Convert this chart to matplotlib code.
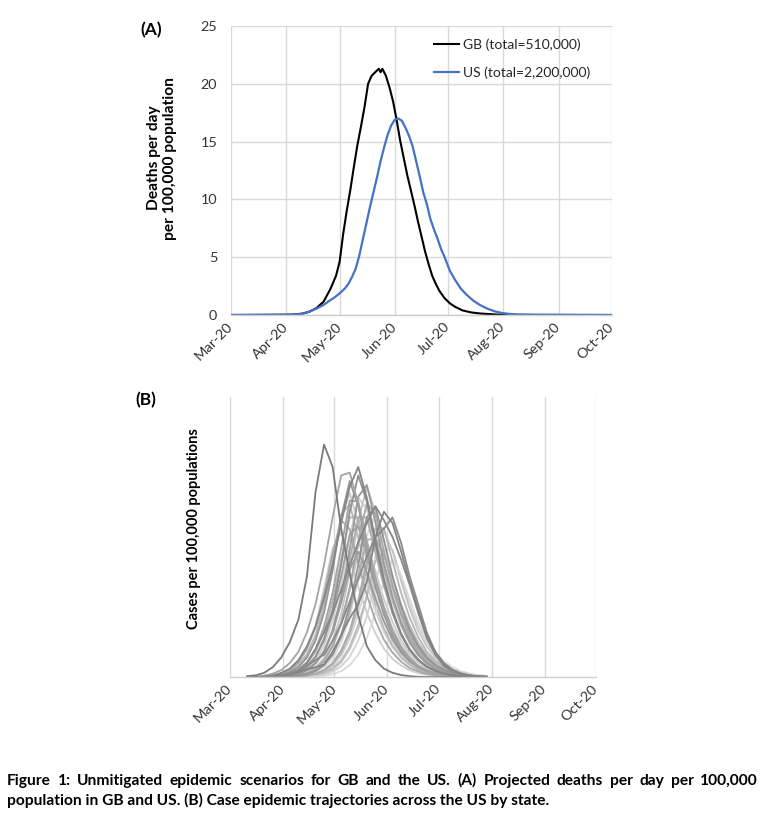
import numpy as np
import matplotlib
matplotlib.use('Agg')
import matplotlib.pyplot as plt
import matplotlib.transforms as mtransforms

plt.rcParams['font.family'] = ['Lato', 'DejaVu Sans']

# ---------------- data ----------------
START = np.datetime64('2020-03-01')
MONTH_TICKS = ['2020-03-01', '2020-04-01', '2020-05-01', '2020-06-01',
               '2020-07-01', '2020-08-01', '2020-09-01', '2020-10-01']
MONTH_LABELS = ['Mar-20', 'Apr-20', 'May-20', 'Jun-20', 'Jul-20', 'Aug-20', 'Sep-20', 'Oct-20']

# Panel A: deaths per day per 100,000 (days since 1 Mar 2020)
GB_DAYS = [0, 20, 30, 35, 40, 44, 48, 52, 56, 59, 61, 63, 65, 67, 69, 71, 73, 75, 77, 79,
           81, 83, 84, 85, 87, 89, 91, 93, 95, 97, 99, 101, 103, 105, 107, 109, 111, 113, 115, 117,
           120, 123, 126, 130, 135, 140, 150, 160, 214]
GB_VALUES = [0, 0.02, 0.03, 0.04, 0.12, 0.28, 0.6, 1.15, 2.3, 3.4, 4.6, 7.0, 9.0, 10.8, 12.8, 14.7, 16.3, 18.0, 20.0, 20.7,
             21.0, 21.3, 21.0, 21.3, 20.7, 19.7, 18.5, 16.9, 15.1, 13.6, 12.1, 10.8, 9.5, 8.1, 6.8, 5.5, 4.4, 3.4, 2.7, 2.1,
             1.45, 1.0, 0.7, 0.4, 0.22, 0.13, 0.03, 0.01, 0]
US_DAYS = [0, 30, 35, 40, 44, 48, 52, 55, 58, 61, 64, 66, 68, 70, 72, 74, 76, 78, 80, 82,
           84, 86, 88, 90, 92, 94, 96, 98, 100, 102, 104, 106, 108, 110, 112, 114, 116, 118, 120, 123,
           126, 129, 132, 136, 140, 144, 148, 152, 156, 160, 170, 214]
US_VALUES = [0, 0.01, 0.02, 0.1, 0.29, 0.55, 0.87, 1.2, 1.5, 1.87, 2.3, 2.7, 3.3, 4.0, 5.1, 6.5, 7.9, 9.3, 10.6, 11.9,
             13.3, 14.5, 15.6, 16.4, 16.9, 17.0, 16.8, 16.2, 15.5, 14.6, 13.3, 12.0, 10.6, 9.6, 8.3, 7.4, 6.6, 5.7, 5.0, 3.8,
             3.0, 2.3, 1.8, 1.25, 0.85, 0.55, 0.32, 0.18, 0.1, 0.05, 0.02, 0]
LEGEND_LABELS = ['GB (total=510,000)', 'US (total=2,200,000)']

# Panel B: case trajectories by state (relative scale, days since 1 Mar 2020)
STATE_DAYS = [10, 15, 20, 25, 30, 35, 40, 45, 50, 55, 60, 65, 70, 75, 80,
              85, 90, 95, 100, 105, 110, 115, 120, 125, 130, 135, 140, 145, 150]
STATE_01 = [0, 0, 0.1, 0.3, 0.7, 1.8, 3.5, 7, 13, 23, 38, 57, 70, 61, 46, 33, 22.4, 14.7, 9.5, 6, 3.5, 2.1, 1.2, 0.63, 0.28, 0.14, 0, 0, 0]
STATE_02 = [0, 0, 0.1, 0.2, 0.5, 1.2, 2.6, 5.3, 10, 18, 30, 46, 63, 62.7, 48.8, 35.6, 25, 16.8, 10.8, 6.9, 4.1, 2.4, 1.4, 0.8, 0.4, 0.17, 0, 0, 0]
STATE_03 = [0, 0, 0, 0.2, 0.4, 0.7, 1.8, 3.6, 7.2, 13.7, 24, 40, 59, 72, 62.6, 47.5, 33.8, 23, 15.1, 9.7, 6.1, 3.6, 2.2, 1.2, 0.65, 0.3, 0.15, 0, 0]
STATE_04 = [0, 0, 0.2, 0.45, 0.9, 2.2, 4.4, 8.2, 15, 26, 41, 58, 61.7, 49.8, 36.5, 25.8, 17.3, 11.3, 7.2, 4.4, 2.6, 1.5, 0.9, 0.44, 0.19, 0.1, 0, 0, 0]
STATE_05 = [0, 0, 0, 0.1, 0.25, 0.5, 1.1, 2.4, 4.8, 9, 16, 27, 42, 57, 57, 44.4, 32.4, 22.8, 15.3, 9.8, 6.3, 3.7, 2.2, 1.26, 0.72, 0.36, 0.15, 0, 0]
STATE_06 = [0, 0, 0, 0, 0.1, 0.3, 0.6, 1.4, 2.9, 5.7, 10.8, 19, 31, 47, 57, 49.6, 37.6, 26.8, 18.2, 12, 7.7, 4.8, 2.85, 1.7, 0.97, 0.5, 0.23, 0.1, 0]
STATE_07 = [0, 0, 0, 0.15, 0.4, 0.8, 1.9, 3.9, 7.2, 13, 22.5, 36, 51, 53.9, 43.5, 31.9, 22.6, 15.1, 9.9, 6.3, 3.9, 2.3, 1.3, 0.77, 0.39, 0.17, 0, 0, 0]
STATE_08 = [0, 0, 0, 0, 0.1, 0.2, 0.4, 0.9, 2.1, 4.2, 7.8, 14, 23.4, 36.4, 49, 49.4, 38.5, 28.1, 19.8, 13.3, 8.5, 5.5, 3.2, 1.9, 1.1, 0.62, 0.31, 0.13, 0]
STATE_09 = [0, 0, 0, 0, 0.1, 0.3, 0.7, 1.7, 3.4, 6.2, 11.5, 19.7, 31, 44, 47, 37.9, 27.8, 19.7, 13.2, 8.6, 5.5, 3.4, 2, 1.15, 0.67, 0.34, 0.14, 0, 0]
STATE_10 = [0, 0, 0, 0, 0, 0.1, 0.25, 0.5, 1.25, 2.5, 5, 9.5, 16.5, 27.5, 41, 50, 43.5, 33, 23.5, 16, 10.5, 6.75, 4.25, 2.5, 1.5, 0.85, 0.45, 0.2, 0.1]
STATE_11 = [0, 0, 0.1, 0.25, 0.5, 1.25, 2.5, 5, 9.5, 16.5, 27.5, 41, 50, 43.5, 33, 23.5, 16, 10.5, 6.75, 4.25, 2.5, 1.5, 0.85, 0.45, 0.2, 0.1, 0, 0, 0]
STATE_12 = [0, 0, 0, 0, 0, 0.15, 0.25, 0.35, 0.7, 1.6, 3.2, 5.9, 10.8, 18.5, 29, 41.4, 44.1, 35.6, 26.1, 18.5, 12.4, 8.1, 5.2, 3.2, 1.9, 1.1, 0.63, 0.32, 0.13]
STATE_13 = [0, 0, 0, 0.1, 0.25, 0.6, 1.4, 3, 5.9, 11.2, 20, 33, 50, 64, 60, 46.2, 33.3, 23.1, 15.2, 9.9, 6.3, 3.7, 2.2, 1.25, 0.7, 0.33, 0.13, 0, 0]
STATE_14 = [0, 0, 0, 0.1, 0.2, 0.5, 1.2, 2.5, 5, 9.2, 16, 26.5, 38.5, 44.8, 37.4, 27.9, 19.8, 13.5, 8.8, 5.6, 3.5, 2.1, 1.2, 0.7, 0.36, 0.16, 0, 0, 0]
STATE_15 = [0, 0, 0, 0, 0, 0, 0.1, 0.25, 0.5, 1.3, 2.6, 5.2, 9.9, 17, 28.6, 42.6, 52, 45.2, 34.3, 24.4, 16.6, 10.9, 7, 4.4, 2.6, 1.6, 0.9, 0.47, 0.2]
STATE_16 = [0, 0, 0.15, 0.5, 1.3, 2.6, 5.2, 10, 17.8, 29.5, 44, 56, 52.8, 40.6, 29.3, 20.3, 13.3, 8.7, 5.5, 3.2, 2, 1.1, 0.6, 0.29, 0.12, 0, 0, 0, 0]
STATE_17 = [0, 0, 0, 0, 0.1, 0.25, 0.5, 1, 2.2, 4.3, 8, 15, 25.4, 40, 57, 60.8, 49, 36, 25.4, 17, 11.2, 7.1, 4.3, 2.6, 1.5, 0.87, 0.43, 0.19, 0.1]
STATE_18 = [0, 0, 0, 0, 0.1, 0.2, 0.45, 1.1, 2.2, 4.4, 8.2, 14.2, 23.6, 34.5, 39.8, 33.2, 24.8, 17.6, 12, 7.8, 5, 3.1, 1.85, 1.1, 0.62, 0.32, 0.14, 0, 0]
STATE_19 = [0, 0, 0.1, 0.2, 0.45, 1.1, 2.4, 4.8, 9, 16.4, 27, 42, 57, 57, 44.4, 32.4, 22.8, 15.3, 9.8, 6.3, 3.7, 2.2, 1.26, 0.72, 0.36, 0.15, 0, 0, 0]
STATE_20 = [0, 0, 0, 0, 0, 0.15, 0.25, 0.4, 1, 2, 4, 7.5, 13.5, 22.5, 33.5, 42.5, 40, 30.8, 22.2, 15.4, 10.1, 6.6, 4.2, 2.5, 1.5, 0.84, 0.46, 0.22, 0.09]
STATE_21 = [0, 0, 0, 0.15, 0.3, 0.5, 1, 2.5, 4.9, 9.1, 16.8, 28.7, 45.5, 64.4, 68.6, 55.3, 40.6, 28.7, 19.3, 12.6, 8, 4.9, 2.9, 1.7, 0.98, 0.49, 0.21, 0, 0]
STATE_22 = [0, 0, 0, 0, 0, 0, 0.1, 0.2, 0.4, 0.9, 1.9, 3.8, 7.2, 13, 21.6, 33.6, 45.6, 45.6, 35.5, 25.9, 18.2, 12.2, 7.8, 5, 3, 1.8, 1, 0.58, 0.29]
STATE_23 = [0, 0, 0, 0, 0.15, 0.3, 0.6, 1.4, 2.9, 5.8, 10.9, 19.2, 32, 48.6, 62, 58.2, 44.8, 32.3, 22.4, 14.7, 9.6, 6.1, 3.6, 2.2, 1.2, 0.67, 0.32, 0.13, 0]
STATE_24 = [0, 0, 0.1, 0.3, 0.7, 1.8, 3.6, 7.3, 13.5, 24, 39.6, 57, 65.7, 54.8, 40.9, 29, 19.8, 12.9, 8.3, 5.1, 3, 1.8, 1, 0.53, 0.23, 0, 0, 0, 0]
STATE_25 = [0, 0, 0, 0, 0, 0, 0, 0.1, 0.2, 0.4, 1, 2.1, 4.2, 8, 13.9, 23, 34.4, 42, 36.5, 27.7, 19.7, 13.4, 8.8, 5.7, 3.6, 2.1, 1.26, 0.71, 0.38]
STATE_26 = [0.3, 0.6, 1.5, 3.5, 7, 12.5, 20.5, 36, 66, 83, 75, 53, 37, 22, 11, 6, 3, 1.5, 0.7, 0.3, 0.1, 0, 0, 0, 0, 0, 0, 0, 0]
STATE_27 = [0, 0, 0.1, 0.3, 0.6, 1, 1.8, 2.8, 3.5, 4.5, 9, 15, 21, 26, 34, 50, 59, 55, 45, 34, 24, 15, 9, 5, 2.6, 1.3, 0.6, 0.25, 0.1]
STATE_28 = [0, 0, 0, 0.2, 0.5, 1.2, 2.5, 5, 10, 16, 23, 31, 40, 48, 55, 61, 56, 50, 42, 33, 23, 14, 8, 4, 2, 1, 0.5, 0.2, 0]
STATE_29 = [0, 0, 0, 0.1, 0.3, 0.8, 1.8, 4, 6, 8, 13, 19, 27, 35, 43, 50, 53, 57, 48, 36, 26, 16, 9, 4.5, 2.2, 1, 0.4, 0.2, 0.1]
STATE_30 = [0, 0, 0, 0.5, 1.5, 3, 6, 11, 18, 28, 40, 55, 68, 75, 64, 49, 35, 24, 15.5, 10, 6.2, 3.8, 2.2, 1.2, 0.6, 0.3, 0.1, 0, 0]
STATE_31 = [0, 0, 0.5, 1.2, 2.5, 5, 9, 16, 26, 40, 57, 72, 73, 62, 47, 34, 23.5, 15.5, 10, 6.3, 3.8, 2.2, 1.2, 0.6, 0.3, 0.1, 0, 0, 0]
STATE_32 = [0, 0, 0, 0, 0.1, 0.3, 0.7, 1.7, 3.4, 6.8, 12.9, 22.4, 37.4, 55.8, 68, 59.2, 44.9, 32, 21.8, 14.3, 9.2, 5.8, 3.4, 2, 1.2, 0.6, 0.27, 0.1, 0]
STATE_33 = [0, 0, 0, 0, 0, 0.1, 0.2, 0.45, 1, 2.2, 4.5, 8.4, 15.1, 25.2, 39.2, 53.2, 53.2, 41.4, 30.2, 21.3, 14.3, 9.1, 5.9, 3.5, 2.1, 1.2, 0.67, 0.34, 0.14]
STATE_34 = [0, 0, 0.2, 0.6, 1.4, 2.9, 5.7, 10.6, 18.5, 31.5, 46, 51.7, 43.2, 32.2, 22.9, 15.6, 10.1, 6.5, 4.1, 2.4, 1.4, 0.8, 0.42, 0.18, 0, 0, 0, 0, 0]
STATE_35 = [0, 0, 0, 0, 0.1, 0.2, 0.35, 0.7, 1.7, 3.5, 6.4, 12.2, 21.5, 34.8, 50.5, 57.7, 48.1, 36, 25.5, 17.4, 11.3, 7.3, 4.5, 2.7, 1.6, 0.9, 0.46, 0.2, 0.1]

STATES = [STATE_11, STATE_24, STATE_35, STATE_18, STATE_22, STATE_34, STATE_13, STATE_15, STATE_09,
          STATE_20, STATE_32, STATE_04, STATE_06, STATE_12, STATE_25, STATE_33, STATE_02, STATE_19,
          STATE_05, STATE_16, STATE_07, STATE_08, STATE_10, STATE_23, STATE_14, STATE_01, STATE_21,
          STATE_03, STATE_17, STATE_31, STATE_30, STATE_28, STATE_29, STATE_27, STATE_26]
STATE_COLORS = ['#d4d4d4', '#c8c8c8', '#dcdcdc', '#d8d8d8', '#d2d2d2', '#cecece', '#d0d0d0', '#c6c6c6', '#cacaca',
                '#d6d6d6', '#c4c4c4', '#b8b8b8', '#c0c0c0', '#bcbcbc', '#dadada', '#b6b6b6', '#a2a2a2', '#b4b4b4',
                '#adadad', '#a6a6a6', '#9e9e9e', '#b0b0b0', '#aaaaaa', '#a8a8a8', '#9c9c9c', '#959595', '#999999',
                '#909090', '#939393', '#a4a4a4', '#858585', '#878787', '#8a8a8a', '#848484', '#7a7a7a']

for s in STATES:
    assert len(s) == len(STATE_DAYS)
assert len(STATES) == len(STATE_COLORS)
assert len(GB_DAYS) == len(GB_VALUES) and len(US_DAYS) == len(US_VALUES)

CAPTION_1 = 'Figure 1: Unmitigated epidemic scenarios for GB and the US. (A) Projected deaths per day per 100,000'
CAPTION_2 = 'population in GB and US. (B) Case epidemic trajectories across the US by state.'


def to_dates(days):
    return START + np.array(days, dtype='timedelta64[D]')


# ---------------- figure ----------------
W, H = 764, 813
fig = plt.figure(figsize=(W / 100, H / 100), dpi=100)


def fx(px):
    return px / W


def fy(py):
    return 1 - py / H


GRID = '#d9d9d9'
TICKC = '#333333'
TICK_FS = 10.4
months = np.array(MONTH_TICKS, dtype='datetime64[D]')
label_shift = mtransforms.ScaledTranslation(5 / 100, 0, fig.dpi_scale_trans)


def style_x(ax):
    ax.set_xlim(months[0], months[-1])
    ax.set_xticks(months)
    ax.set_xticklabels(MONTH_LABELS, fontsize=TICK_FS, color=TICKC)
    for lab in ax.get_xticklabels():
        lab.set_rotation(45)
        lab.set_ha('right')
        lab.set_va('center')
        lab.set_rotation_mode('anchor')
        lab.set_transform(lab.get_transform() + label_shift)
    ax.tick_params(axis='x', length=0, pad=7)
    ax.grid(axis='x', color=GRID, lw=1.0)
    for sp in ['top', 'right', 'left']:
        ax.spines[sp].set_visible(False)
    ax.spines['bottom'].set_color('#cfcfcf')
    ax.spines['bottom'].set_linewidth(1.0)
    ax.set_axisbelow(True)


# Panel A
axA = fig.add_axes([fx(231), fy(315), fx(612) - fx(231), fy(26) - fy(315)])
axA.plot(to_dates(GB_DAYS), GB_VALUES, color='black', lw=1.5, label=LEGEND_LABELS[0])
axA.plot(to_dates(US_DAYS), US_VALUES, color='#4472c4', lw=1.6, label=LEGEND_LABELS[1])
axA.set_ylim(0, 25)
axA.set_yticks([0, 5, 10, 15, 20, 25])
axA.set_yticklabels(['0', '5', '10', '15', '20', '25'], fontsize=TICK_FS, color=TICKC)
axA.tick_params(axis='y', length=0, pad=10)
axA.grid(axis='y', color=GRID, lw=1.0)
style_x(axA)
leg = axA.legend(loc='upper left', bbox_to_anchor=(fx(434), fy(38)), bbox_transform=fig.transFigure,
                 frameon=False, fontsize=10, borderpad=0, borderaxespad=0,
                 handlelength=1.8, handletextpad=0.3, labelspacing=1.15)
for t in leg.get_texts():
    t.set_color('#262626')

fig.text(fx(162), fy(158), 'Deaths per day\nper 100,000 population', rotation=90,
         ha='center', va='center', multialignment='center', fontsize=11.2, fontweight='bold',
         linespacing=1.15)
fig.text(fx(151), fy(30), '(A)', ha='center', va='center', fontsize=12.5, fontweight='bold')

# Panel B
axB = fig.add_axes([fx(230), fy(677), fx(596) - fx(230), fy(397) - fy(677)])
for vals, col in zip(STATES, STATE_COLORS):
    axB.plot(to_dates(STATE_DAYS), vals, color=col, lw=1.3)
axB.set_ylim(0, 100)
axB.set_yticks([])
style_x(axB)
fig.text(fx(194), fy(529), 'Cases per 100,000 populations', rotation=90,
         ha='center', va='center', fontsize=10.5, fontweight='bold')
fig.text(fx(146), fy(400), '(B)', ha='center', va='center', fontsize=12.5, fontweight='bold')

# Caption (justified first line)
fig.canvas.draw()
rend = fig.canvas.get_renderer()


def text_w(s, size):
    t = fig.text(0, 0, s, fontsize=size, fontweight='bold')
    w = t.get_window_extent(rend).width
    t.remove()
    return w


cap_fs = 12 * 538 / text_w(CAPTION_2, 12)
words = CAPTION_1.split(' ')
widths = [text_w(w_, cap_fs) for w_ in words]
gap = (751 - sum(widths)) / (len(words) - 1)
xpos = 7
for w_, wd in zip(words, widths):
    fig.text(fx(xpos), fy(785), w_, fontsize=cap_fs, fontweight='bold', ha='left', va='baseline')
    xpos += wd + gap
fig.text(fx(7), fy(805), CAPTION_2, fontsize=cap_fs, fontweight='bold', ha='left', va='baseline')

fig.savefig('out.png', dpi=100)
